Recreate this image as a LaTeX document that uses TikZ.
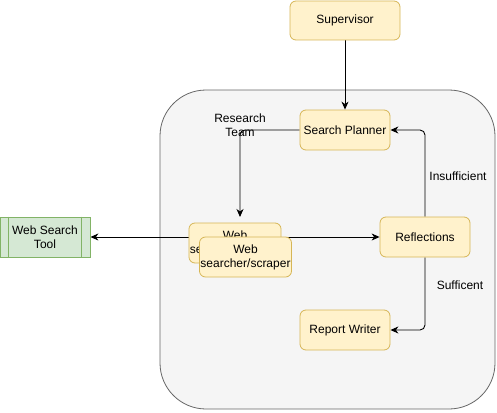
\documentclass[tikz,border=0pt]{standalone}
\usepackage{fontspec}
\setmainfont{Liberation Sans}
\usetikzlibrary{arrows.meta}
\pgfdeclarelayer{bg}
\pgfdeclarelayer{edges}
\pgfsetlayers{bg,edges,main}
\definecolor{yfill}{HTML}{FFF2CC}
\definecolor{ydraw}{HTML}{D6B656}
\definecolor{gfill}{HTML}{D5E8D4}
\definecolor{gdraw}{HTML}{82B366}
\definecolor{cfill}{HTML}{F5F5F5}
\definecolor{cdraw}{HTML}{666666}
\tikzset{
  ybox/.style={draw=ydraw, fill=yfill, rounded corners=6pt, line width=0.8pt,
    minimum width=90pt, minimum height=40pt, inner sep=1pt, align=center,
    font=\fontsize{12}{14}\selectfont},
  lbl/.style={font=\fontsize{12}{14}\selectfont, align=center, inner sep=0pt},
  conn/.style={line width=0.9pt, -{Stealth[length=8pt,width=7pt,inset=2.5pt]}, rounded corners=5pt},
}
\begin{document}
\begin{tikzpicture}[x=1pt,y=-1pt]
\useasboundingbox (0,0) rectangle (497,412);
\begin{pgfonlayer}{bg}
\draw[draw=cdraw, fill=cfill, line width=0.8pt, rounded corners=46pt] (160,90) rectangle (495,409);
\end{pgfonlayer}
\node[ybox, minimum width=110pt, minimum height=39pt] (sup) at (345,20.5) {Supervisor};
\node[ybox] (plan) at (345,130) {Search Planner};
\node[ybox] (refl) at (425,237) {Reflections};
\node[ybox] (rep) at (345,330) {Report Writer};
\node[ybox] (back) at (235,243) {Web\\searcher/scraper};
\node[ybox, minimum width=91pt] (front) at (245.5,257) {Web\\searcher/scraper};
\node[draw=gdraw, fill=gfill, line width=0.8pt, minimum width=90pt, minimum height=40pt,
  align=center, inner sep=1pt, font=\fontsize{12}{14}\selectfont] (tool) at (45,237) {Web Search\\Tool};
\draw[gdraw, line width=0.8pt] ([xshift=9pt]tool.north west) -- ([xshift=9pt]tool.south west);
\draw[gdraw, line width=0.8pt] ([xshift=-9pt]tool.north east) -- ([xshift=-9pt]tool.south east);
\coordinate (grouptop) at (240,217);
\node[lbl] (rt) at (240,125) {Research\\Team};
\node[lbl] (ins) at (458,176) {Insufficient};
\node[lbl] (suf) at (460,285) {Sufficent};
\begin{pgfonlayer}{edges}
\draw[conn] (sup) -- (plan);
\draw[conn] (plan.west) -| (grouptop);
\draw[conn] (back.center |- tool.east) -- (tool.east);
\draw[conn] (back.center |- refl.west) -- (refl.west);
\draw[conn] (refl.north) |- (plan.east);
\draw[conn] (refl.south) |- (rep.east);
\end{pgfonlayer}
\end{tikzpicture}
\end{document}
